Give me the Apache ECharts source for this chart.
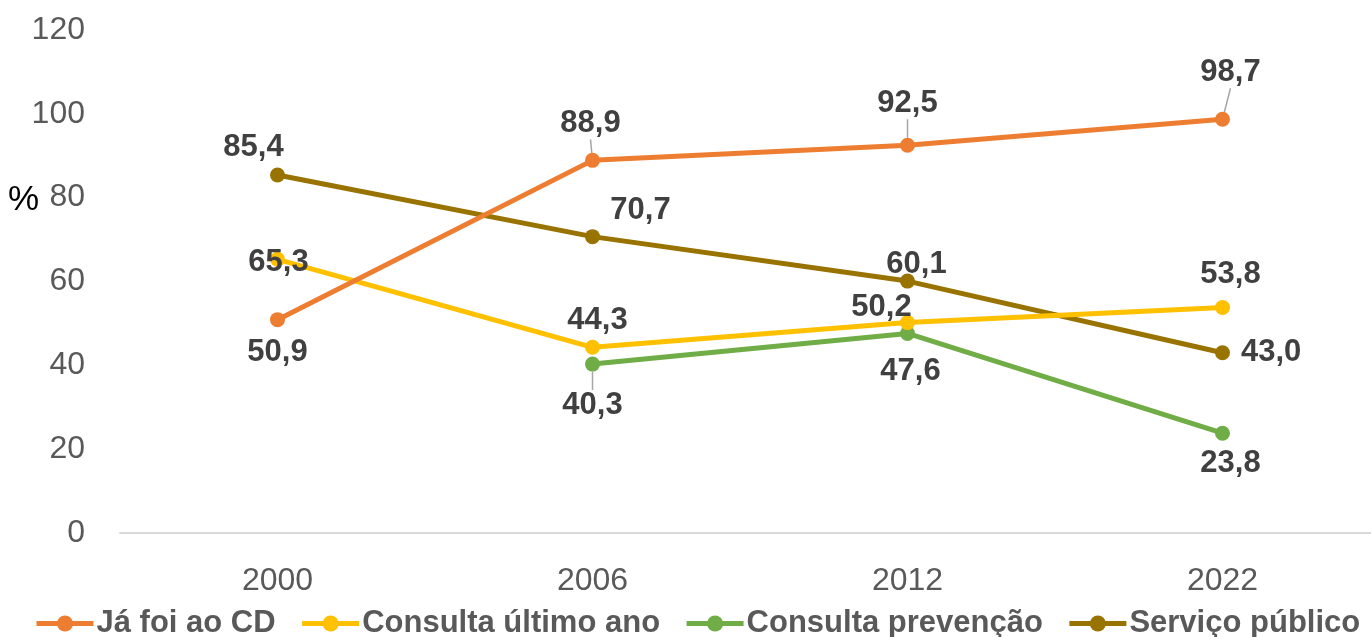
<!DOCTYPE html>
<html><head><meta charset="utf-8">
<script src="https://cdn.jsdelivr.net/npm/echarts@6/dist/echarts.min.js"></script>
<style>html,body{margin:0;padding:0;background:#fff}#c{width:1371px;height:637px}</style>
</head><body><div id="c"></div>
<script>
var years = ['2000', '2006', '2012', '2022'];
var seriesNames = ['Já foi ao CD', 'Consulta último ano', 'Consulta prevenção', 'Serviço público'];
var jaFoiAoCD = [50.9, 88.9, 92.5, 98.7];
var consultaUltimoAno = [65.3, 44.3, 50.2, 53.8];
var consultaPrevencao = [null, 40.3, 47.6, 23.8];
var servicoPublico = [85.4, 70.7, 60.1, 43.0];
var yTicks = [0, 20, 40, 60, 80, 100, 120];

var colors = ['#ED7D31', '#FFC000', '#70AD47', '#997300'];
var seriesValues = [jaFoiAoCD, consultaUltimoAno, consultaPrevencao, servicoPublico];
// label placement: [position, distance, shiftX, shiftY]
var labelPlacement = [
  [['bottom', 10, 0, 0], ['top', 14, -2, 0], ['top', 19, 0, 0], ['top', 24, 8, 0]],
  [['inside', 0, 1, 3], ['top', 4, 5, 0], ['top', 0, -26, 7], ['top', 11, 8, 0]],
  [['bottom', 0, 0, 0], ['bottom', 19, 0, 0], ['bottom', 15, 3, 0], ['bottom', 8, 8, 0]],
  [['top', 5, -24, 0], ['top', 4, 48, 0], ['top', 0, 9, 6], ['right', 11, 0, 0]]
];
// leader lines (from marker centre, pixel direction)
var leaderLines = { '0-1': [-9, -13], '0-2': [0, -16], '0-3': [7, -22], '2-1': [0, 15] };
var yearIndex = years.map(function (y, i) { return i; });

function fmt(v) { return v.toFixed(1).replace('.', ','); }

var series = seriesNames.map(function (name, s) {
  return {
    name: name,
    type: 'line',
    symbol: 'circle',
    symbolSize: 15,
    connectNulls: false,
    lineStyle: { width: 5, color: colors[s] },
    itemStyle: { color: colors[s] },
    z: 10 - s,
    data: seriesValues[s].map(function (v, i) {
      var lp = labelPlacement[s][i];
      var item = {
        value: [yearIndex[i], v],
        label: { position: lp[0], distance: lp[1] }
      };
      if (leaderLines[s + '-' + i]) {
        item.labelLine = { show: true, lineStyle: { color: '#A6A6A6', width: 1.5 } };
      }
      return item;
    }),
    label: {
      show: true,
      fontFamily: 'Liberation Sans, Arial, sans-serif',
      fontWeight: 'bold',
      fontSize: 31,
      lineHeight: 30,
      color: '#404040',
      formatter: function (p) { return fmt(p.value[1]); }
    },
    labelLine: { show: false },
    labelLayout: function (params) {
      var s = params.seriesIndex, i = params.dataIndex;
      var lp = labelPlacement[s][i];
      var out = { dx: lp[2], dy: lp[3] };
      var d = leaderLines[s + '-' + i];
      if (d) {
        var r = params.rect;
        var cx = r.x + r.width / 2, cy = r.y + r.height / 2;
        out.labelLinePoints = [[cx, cy], [cx + d[0] / 2, cy + d[1] / 2], [cx + d[0], cy + d[1]]];
      }
      return out;
    },
    emphasis: { disabled: true }
  };
});

var chart = echarts.init(document.getElementById('c'), null, { renderer: 'canvas' });
chart.setOption({
  animation: false,
  backgroundColor: '#ffffff',
  grid: { left: 120, right: 0, top: 30, bottom: 104, containLabel: false },
  xAxis: {
    type: 'value',
    min: -0.5,
    max: 1251 / 315 - 0.5,
    axisLine: { show: true, lineStyle: { color: '#D9D9D9', width: 2 } },
    axisTick: { show: false },
    splitLine: { show: false },
    axisLabel: {
      customValues: yearIndex,
      formatter: function (v) { return years[Math.round(v)]; },
      margin: 32,
      fontFamily: 'Liberation Sans, Arial, sans-serif',
      fontSize: 32,
      color: '#595959'
    }
  },
  yAxis: {
    type: 'value',
    min: 0,
    max: 120,
    interval: 20,
    axisLine: { show: false },
    axisTick: { show: false },
    splitLine: { show: false },
    axisLabel: {
      margin: 35,
      fontFamily: 'Liberation Sans, Arial, sans-serif',
      fontSize: 32,
      color: '#595959',
      customValues: yTicks
    }
  },
  legend: {
    left: 34,
    top: 608,
    width: 1337,
    padding: 0,
    itemWidth: 57,
    itemHeight: 20,
    itemGap: 24,
    lineStyle: { width: 5 },
    textStyle: {
      fontFamily: 'Liberation Sans, Arial, sans-serif',
      fontWeight: 'bold',
      fontSize: 31,
      color: '#595959',
      padding: [0, 0, 0, -2]
    },
    data: seriesNames
  },
  graphic: [{
    type: 'text',
    left: 8,
    top: 183,
    style: { text: '%', fontFamily: 'Liberation Sans, Arial, sans-serif', fontSize: 35, fill: '#000000' }
  }],
  series: series
});
</script></body></html>
